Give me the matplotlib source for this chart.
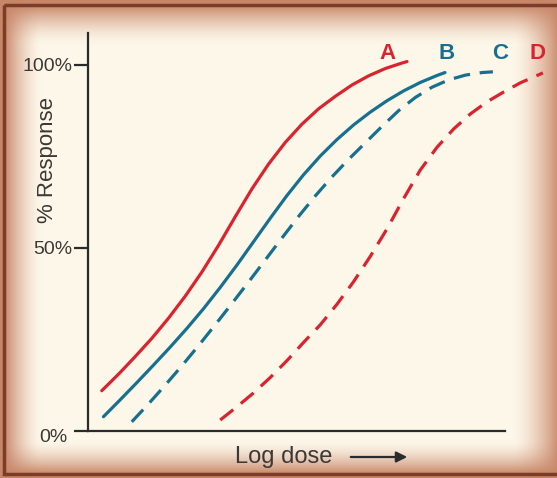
import numpy as np
import matplotlib
matplotlib.use('Agg')
import matplotlib.pyplot as plt
from matplotlib.patches import Rectangle

plt.rcParams['font.family'] = ['Liberation Sans', 'DejaVu Sans']
plt.rcParams['lines.scale_dashes'] = False

# curve data (log dose in arbitrary units, response in %)
xa = [0.33, 0.73, 1.13, 1.53, 1.93, 2.33, 2.73, 3.13, 3.53, 3.93, 4.33, 4.73,
      5.13, 5.53, 5.93, 6.33, 6.73, 7.13, 7.53, 7.65]
ya = [11.0, 15.5, 20.3, 25.3, 30.8, 36.8, 43.4, 50.7, 58.5, 66.1, 72.9, 78.8,
      83.8, 88.0, 91.4, 94.5, 97.0, 99.0, 100.5, 100.9]

xb = [0.37, 0.77, 1.17, 1.57, 1.97, 2.37, 2.77, 3.17, 3.57, 3.97, 4.37, 4.77,
      5.17, 5.57, 5.97, 6.37, 6.77, 7.17, 7.57, 7.97, 8.37, 8.56]
yb = [3.9, 8.5, 13.2, 18.0, 22.9, 28.0, 33.4, 39.2, 45.3, 51.7, 58.1, 64.3,
      70.0, 75.1, 79.6, 83.6, 87.1, 90.2, 92.9, 95.2, 97.1, 97.9]

xc = [1.05, 1.45, 1.85, 2.25, 2.65, 3.05, 3.45, 3.85, 4.25, 4.65, 5.05, 5.45,
      5.85, 6.25, 6.65, 7.05, 7.45, 7.85, 8.25, 8.65, 9.05, 9.45, 9.71]
yc = [2.5, 7.4, 12.5, 17.8, 23.3, 29.0, 34.8, 40.7, 46.7, 52.7, 58.6, 64.2,
      69.4, 74.2, 78.7, 83.2, 87.5, 91.1, 93.9, 95.9, 97.2, 97.9, 98.1]

xd = [3.17, 3.57, 3.97, 4.37, 4.77, 5.17, 5.57, 5.97, 6.37, 6.77, 7.17, 7.57,
      7.97, 8.37, 8.77, 9.17, 9.57, 9.97, 10.37, 10.77, 10.91]
yd = [3.0, 6.6, 10.4, 14.6, 19.2, 24.2, 29.0, 34.6, 40.8, 47.7, 55.2, 63.5,
      71.3, 77.5, 82.5, 86.6, 89.9, 92.6, 95.1, 97.1, 97.8]

labels = ['A', 'B', 'C', 'D']
label_x = [7.19, 8.61, 9.88, 10.77]
yticks = [50, 100]
yticklabels = ['50%', '100%']

red = '#d9232e'
blue = '#17708f'
txt = '#3c3836'

W, H = 557, 478
fig = plt.figure(figsize=(W / 100, H / 100), dpi=100)
fig.patch.set_facecolor('white')

# vignette background
bg = fig.add_axes([0, 0, 1, 1])
bg.set_xlim(0, W)
bg.set_ylim(H, 0)
bg.axis('off')
yy, xx = np.mgrid[0:H, 0:W] + 0.5
def band(d, w):
    return np.clip(1 - d / w, 0, 1) ** 1.6
s = 1 - (1 - band(xx - 4, 38)) * (1 - band(W + 3 - xx, 48)) * \
    (1 - band(yy - 5, 40)) * (1 - band(474 - yy, 34))
cream = np.array([253, 247, 233]) / 255
brown = np.array([200, 134, 104]) / 255
img = cream[None, None, :] * (1 - s[..., None]) + brown[None, None, :] * s[..., None]
bg.imshow(img, extent=(0, W, H, 0), interpolation='bilinear')
bg.add_patch(Rectangle((4, 5), W + 10, 469, fill=False, ec='#7a3d27', lw=2.5))

ax = fig.add_axes([88 / W, 47 / H, 417 / W, 398 / H])
ax.patch.set_alpha(0)
ax.set_xlim(0, 10)
ax.set_ylim(0, 108.7)
for sp in ['top', 'right']:
    ax.spines[sp].set_visible(False)
for sp in ['left', 'bottom']:
    ax.spines[sp].set_linewidth(1.6)
    ax.spines[sp].set_color('#2b2b2b')

kw = dict(lw=2.3, solid_joinstyle='round', dash_joinstyle='round', clip_on=False)
ax.plot(xa, ya, color=red, solid_capstyle='round', **kw)
ax.plot(xb, yb, color=blue, solid_capstyle='round', **kw)
ax.plot(xc, yc, color=blue, ls=(0, (12, 7)), **kw)
ax.plot(xd, yd, color=red, ls=(0, (12, 7)), **kw)

for lab, lx, c in zip(labels, label_x, [red, blue, blue, red]):
    ax.text(lx, 103.0, lab, color=c, fontsize=16, fontweight='bold',
            ha='center', va='center', clip_on=False)

ax.set_xticks([])
ax.set_yticks([0] + yticks)
ax.set_yticklabels([''] + yticklabels)
ax.tick_params(axis='y', length=10, width=1.6, color='#2b2b2b', pad=1.5,
               labelsize=14, labelcolor=txt)
ax.annotate('0%', xy=(0, 0), xytext=(-21, -6), textcoords='offset pixels',
            ha='right', va='center', fontsize=14, color=txt)

fig.text(48 / W, 1 - 160 / H, '% Response', rotation=90, ha='center',
         va='center', fontsize=16, color=txt)
fig.text(284 / W, 1 - 457 / H, 'Log dose', ha='center', va='center',
         fontsize=17, color=txt)
bg.annotate('', xy=(410, 457), xytext=(348, 457),
            arrowprops=dict(arrowstyle='-|>', color='#2b2b2b', lw=1.6,
                            mutation_scale=16))

fig.savefig('out.png', dpi=100)
